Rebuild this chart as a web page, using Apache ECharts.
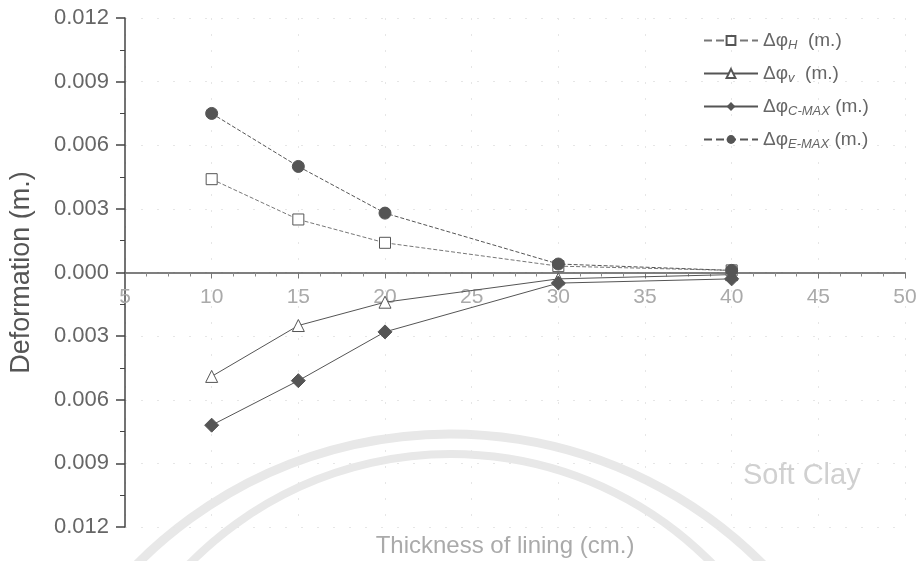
<!DOCTYPE html>
<html><head><meta charset="utf-8">
<script src="https://cdn.jsdelivr.net/npm/echarts@6/dist/echarts.min.js"></script>
<style>html,body{margin:0;padding:0;background:#fff}#c{width:919px;height:561px}</style>
</head><body><div id="c"></div>
<script>
var thickness = [10, 15, 20, 30, 40];
var phiH = [0.0044, 0.0025, 0.0014, 0.0003, 0.0001];
var phiV = [-0.0049, -0.0025, -0.0014, -0.0003, -0.0001];
var phiCmax = [-0.0072, -0.0051, -0.0028, -0.0005, -0.0003];
var phiEmax = [0.0075, 0.0050, 0.0028, 0.0004, 0.0001];
var seriesNames = ['H', 'V', 'CMAX', 'EMAX'];
var legendLabels = {H: '{t|Δφ}{s|H}{t|  (m.)}', V: '{t|Δφ}{s|v}{t|  (m.)}', CMAX: '{t|Δφ}{s|C-MAX}{t| (m.)}', EMAX: '{t|Δφ}{s|E-MAX}{t| (m.)}'};

function pairs(ys){ return thickness.map(function(x,i){ return [x, ys[i]]; }); }
var chart = echarts.init(document.getElementById('c'));
chart.setOption({
  animation: false,
  backgroundColor: '#fff',
  grid: {left: 125, right: 14, top: 18, bottom: 34, containLabel: false, outerBoundsMode: 'none'},
  legend: {
    orient: 'vertical', left: 698, top: 26, itemGap: 12, itemWidth: 54, itemHeight: 11,
    data: seriesNames,
    formatter: function(n){ return legendLabels[n]; },
    textStyle: {color: '#666', rich: {
      t: {fontFamily: 'Liberation Sans', fontSize: 19, color: '#666'},
      s: {fontFamily: 'Liberation Sans', fontSize: 13, fontStyle: 'italic', color: '#666', verticalAlign: 'bottom', padding: [10,0,0,0]}
    }}
  },
  xAxis: {
    type: 'value', min: 5, max: 50, interval: 5, position: 'bottom', offset: -254.5,
    name: 'Thickness of lining (cm.)', nameLocation: 'middle', nameGap: 262,
    nameTextStyle: {color: '#aaa', fontSize: 24, fontFamily: 'Liberation Sans', padding: [0,20,0,0]},
    axisLine: {onZero: false, lineStyle: {color: '#555', width: 1.5}},
    axisTick: {show: true, length: 6, lineStyle: {color: '#777'}},
    minorTick: {show: true, splitNumber: 4, length: 4, lineStyle: {color: '#888'}},
    axisLabel: {color: '#aaa', fontSize: 21, fontFamily: 'Liberation Sans', margin: 14},
    splitLine: {show: true, lineStyle: {color: '#e6e6e6', type: [2, 14]}}
  },
  yAxis: {
    type: 'value', min: -0.012, max: 0.012, interval: 0.003,
    name: 'Deformation (m.)', nameLocation: 'middle', nameGap: 90,
    nameTextStyle: {color: '#555', fontSize: 27, fontFamily: 'Liberation Sans'},
    axisLine: {show: true, onZero: false, lineStyle: {color: '#444', width: 1.5}},
    axisTick: {show: true, length: 9, lineStyle: {color: '#444', width: 1.5}},
    minorTick: {show: true, splitNumber: 2, length: 5, lineStyle: {color: '#444'}},
    axisLabel: {color: '#666', fontSize: 22, fontFamily: 'Liberation Sans', margin: 16,
      formatter: function(v){ return Math.abs(v).toFixed(3); }},
    splitLine: {show: true, lineStyle: {color: '#e6e6e6', type: [2, 14]}}
  },
  graphic: [
    {type: 'arc', z: -10, silent: true, shape: {cx: 450, cy: 875, r: 441, startAngle: Math.PI*1.05, endAngle: Math.PI*1.95}, style: {stroke: '#e8e8e8', lineWidth: 9, fill: null}},
    {type: 'arc', z: -10, silent: true, shape: {cx: 451, cy: 820, r: 366, startAngle: Math.PI*1.05, endAngle: Math.PI*1.95}, style: {stroke: '#e8e8e8', lineWidth: 8, fill: null}},
    {type: 'text', left: 743, top: 461, style: {text: 'Soft Clay', fill: '#d0d0d0', fontSize: 29, fontFamily: 'Liberation Sans'}}
  ],
  series: [
    {name: 'H', type: 'line', data: pairs(phiH), symbol: 'rect', symbolSize: 11,
     itemStyle: {color: '#fff', borderColor: '#555', borderWidth: 1},
     lineStyle: {color: '#777', width: 1, type: 'dashed'}},
    {name: 'V', type: 'line', data: pairs(phiV), symbol: 'triangle', symbolSize: 12,
     itemStyle: {color: '#fff', borderColor: '#555', borderWidth: 1},
     lineStyle: {color: '#555', width: 1}},
    {name: 'CMAX', type: 'line', data: pairs(phiCmax), symbol: 'diamond', symbolSize: 14,
     itemStyle: {color: '#555', borderColor: '#555'},
     lineStyle: {color: '#555', width: 1}},
    {name: 'EMAX', type: 'line', data: pairs(phiEmax), symbol: 'circle', symbolSize: 12,
     itemStyle: {color: '#555', borderColor: '#555'},
     lineStyle: {color: '#555', width: 1, type: 'dashed'}}
  ]
});
</script></body></html>
